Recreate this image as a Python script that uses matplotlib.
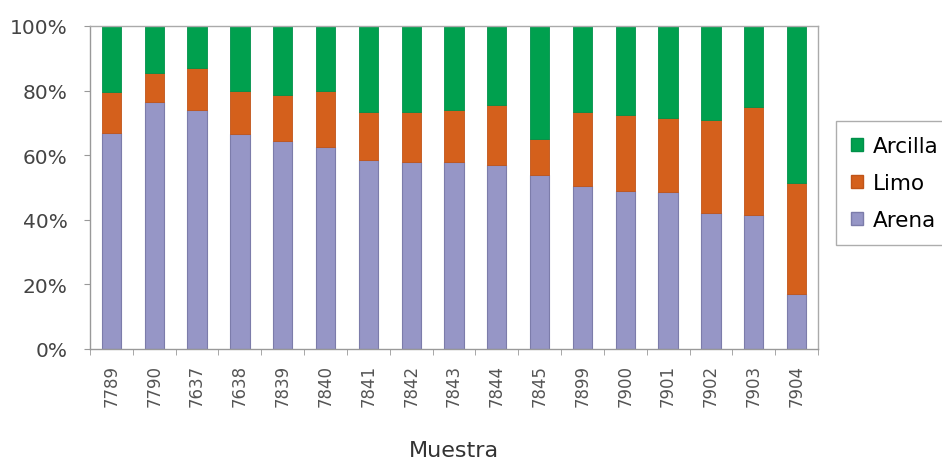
import matplotlib.pyplot as plt
import numpy as np
from matplotlib.patches import Patch

muestras = ['7789', '7790', '7637', '7638', '7839', '7840', '7841', '7842', '7843',
            '7844', '7845', '7899', '7900', '7901', '7902', '7903', '7904']
arena = [67, 76.5, 74, 66.5, 64.5, 62.5, 58.5, 58, 58, 57, 54, 50.5, 49, 48.5, 42, 41.5, 17]
limo = [12.5, 9, 13, 13.5, 14, 17.5, 15, 15.5, 16, 18.5, 11, 23, 23.5, 23, 29, 33.5, 34.5]
arcilla = [20.5, 14.5, 13, 20, 21.5, 20, 26.5, 26.5, 26, 24.5, 35, 26.5, 27.5, 28.5, 29, 25, 48.5]

col_arena = '#9696c6'
col_limo = '#d4601c'
col_arcilla = '#00a04e'

plt.rcParams['font.family'] = 'DejaVu Sans'

fig = plt.figure(figsize=(9.42, 4.64), dpi=100)
ax = fig.add_axes([90 / 942, 1 - 350 / 464, 728 / 942, 323 / 464])

x = np.arange(len(muestras))
w = 0.45
arena = np.array(arena)
limo = np.array(limo)
arcilla = np.array(arcilla)

ax.bar(x, arena, w, color=col_arena, edgecolor='#7c7caa', linewidth=0.8)
ax.bar(x, limo, w, bottom=arena, color=col_limo, edgecolor='#c05418', linewidth=0.6)
ax.bar(x, arcilla, w, bottom=arena + limo, color=col_arcilla, edgecolor='#00904a', linewidth=0.6)

ax.set_xlim(-0.5, len(muestras) - 0.5)
ax.set_ylim(0, 100)
ax.set_yticks(np.arange(0, 101, 20))
ax.set_yticklabels([str(v) + '%' for v in range(0, 101, 20)], fontsize=14.5, color='#444444')
ax.set_xticks(x)
ax.set_xticklabels(muestras, rotation=90, fontsize=12, color='#555555')
ax.set_xticks(np.arange(-0.5, len(muestras)), minor=True)
ax.tick_params(axis='x', which='major', length=0, pad=11)
ax.tick_params(axis='x', which='minor', length=4, color='#999999')
ax.tick_params(axis='y', length=4, color='#999999', pad=12)

for s in ax.spines.values():
    s.set_color('#aaaaaa')
    s.set_linewidth(1)
ax.spines['left'].set_color('#999999')
ax.spines['bottom'].set_color('#999999')

ax.set_xlabel('Muestra', fontsize=16, color='#333333', labelpad=24)

handles = [Patch(facecolor=col_arcilla, edgecolor='#00904a', label='Arcilla'),
           Patch(facecolor=col_limo, edgecolor='#c05418', label='Limo'),
           Patch(facecolor=col_arena, edgecolor='#7c7caa', label='Arena')]
leg = fig.legend(handles=handles, loc='center left', bbox_to_anchor=(836 / 942, 1 - 184 / 464),
                 borderaxespad=0, fontsize=15.5, frameon=True, fancybox=False,
                 handlelength=0.55, handleheight=0.55, handletextpad=0.45,
                 borderpad=0.7, labelspacing=0.8)
leg.get_frame().set_edgecolor('#999999')
leg.get_frame().set_linewidth(1)

fig.savefig('out.png', dpi=100)
